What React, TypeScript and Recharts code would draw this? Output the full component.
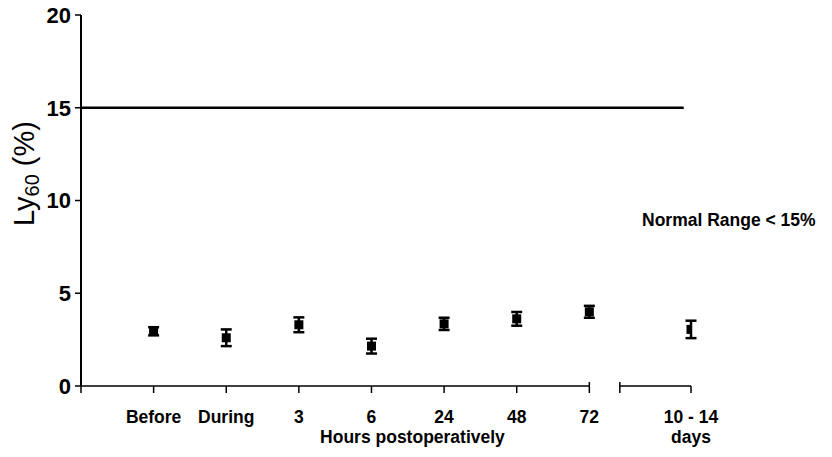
import React from 'react';
import { ComposedChart, Scatter, ErrorBar, XAxis, YAxis, ReferenceLine, ReferenceDot, Label } from 'recharts';

const categories = ['Before', 'During', '3', '6', '24', '48', '72', '10 - 14'];
const positions = [1, 2, 3, 4, 5, 6, 7, 8.4];
const means = [2.95, 2.6, 3.3, 2.15, 3.35, 3.62, 4.0, 3.05];
const sems = [0.22, 0.45, 0.4, 0.4, 0.33, 0.37, 0.32, 0.47];
const yTicks = [0, 5, 10, 15, 20];
const normalLimit = 15;
const breakStart = 7;
const breakEnd = 7.42;
const xMax = 8.4;
const lineEnd = 8.3;
const noteY = 8.95;
const noteText = 'Normal Range < 15%';
const groupLabel = 'Hours postoperatively';
const daysLabel = 'days';

const data = positions.map((x, i) => ({ x, y: means[i], err: sems[i] }));
const FONT = '"Liberation Sans", Arial, sans-serif';

const SquareMarker = (props: any) => {
  const { cx, cy } = props;
  if (cx == null || cy == null) return <g />;
  return <rect x={cx - 4.5} y={cy - 4.5} width={9} height={9} fill="#000" />;
};

const XTick = (props: any) => {
  const { x, y, payload } = props;
  const idx = positions.indexOf(payload.value);
  if (idx < 0) return <g />;
  return (
    <g>
      <text x={x} y={y + 28} textAnchor="middle" fontFamily={FONT} fontSize={17.5} fontWeight="bold" fill="#000">
        {categories[idx]}
      </text>
      {idx === 7 && (
        <text x={x} y={y + 48} textAnchor="middle" fontFamily={FONT} fontSize={17.5} fontWeight="bold" fill="#000">
          {daysLabel}
        </text>
      )}
      {idx === 3 && (
        <text x={x + 41} y={y + 48} textAnchor="middle" fontFamily={FONT} fontSize={17.5} fontWeight="bold" fill="#000">
          {groupLabel}
        </text>
      )}
    </g>
  );
};

const YLabel = (props: any) => {
  const vb = props.viewBox || { x: 0, y: 15, width: 81, height: 371 };
  const cx = 34;
  const cy = vb.y + vb.height / 2 - 27;
  return (
    <text
      x={cx}
      y={cy}
      transform={`rotate(-90, ${cx}, ${cy})`}
      textAnchor="middle"
      fontFamily={FONT}
      fontSize={29}
      fill="#000"
    >
      <tspan>Ly</tspan>
      <tspan fontSize={20} dy={5}>60</tspan>
      <tspan dy={-5}> (%)</tspan>
    </text>
  );
};

const NoteLabel = (props: any) => {
  const vb = props.viewBox || { x: 0, y: 0 };
  return (
    <text x={vb.x - 49} y={vb.y} dominantBaseline="central" fontFamily={FONT} fontSize={17.5} fontWeight="bold" fill="#000">
      {noteText}
    </text>
  );
};

export default function App() {
  return (
    <div style={{ position: 'absolute', left: 0, top: 0, background: '#fff' }}>
      <ComposedChart width={832} height={457} data={data} margin={{ top: 15, right: 141, left: 0, bottom: 21 }}>
        <XAxis
          type="number"
          dataKey="x"
          domain={[0, xMax]}
          ticks={[0, ...positions.slice(0, 7), breakEnd, xMax]}
          interval={0}
          axisLine={false}
          tickLine={{ stroke: '#000', strokeWidth: 1.5 }}
          tickSize={7}
          height={50}
          tick={<XTick />}
          allowDataOverflow
        />
        <YAxis
          type="number"
          domain={[0, 20]}
          ticks={yTicks}
          interval={0}
          width={81}
          axisLine={{ stroke: '#000', strokeWidth: 2 }}
          tickLine={{ stroke: '#000', strokeWidth: 1.5 }}
          tickSize={6}
          tickMargin={4}
          tick={{ fontFamily: FONT, fontSize: 22, fill: '#000', fontWeight: 'bold' }}
        >
          <Label content={<YLabel />} />
        </YAxis>
        <ReferenceLine segment={[{ x: 0, y: 0 }, { x: breakStart, y: 0 }]} stroke="#000" strokeWidth={1.5} ifOverflow="visible" />
        <ReferenceLine segment={[{ x: breakEnd, y: 0 }, { x: xMax, y: 0 }]} stroke="#000" strokeWidth={1.5} ifOverflow="visible" />
        <ReferenceLine segment={[{ x: breakStart, y: 0 }, { x: breakStart, y: 0.22 }]} stroke="#000" strokeWidth={1.5} ifOverflow="visible" />
        <ReferenceLine segment={[{ x: breakEnd, y: 0 }, { x: breakEnd, y: 0.22 }]} stroke="#000" strokeWidth={1.5} ifOverflow="visible" />
        <ReferenceLine segment={[{ x: 0, y: normalLimit }, { x: lineEnd, y: normalLimit }]} stroke="#000" strokeWidth={2.5} ifOverflow="visible" />
        <ReferenceDot x={xMax} y={noteY} r={0} fill="none" stroke="none" ifOverflow="visible" label={<NoteLabel />} />
        <Scatter dataKey="y" fill="#000" shape={<SquareMarker />} isAnimationActive={false}>
          <ErrorBar dataKey="err" direction="y" width={5.5} stroke="#000" strokeWidth={2.5} isAnimationActive={false} />
        </Scatter>
      </ComposedChart>
    </div>
  );
}
